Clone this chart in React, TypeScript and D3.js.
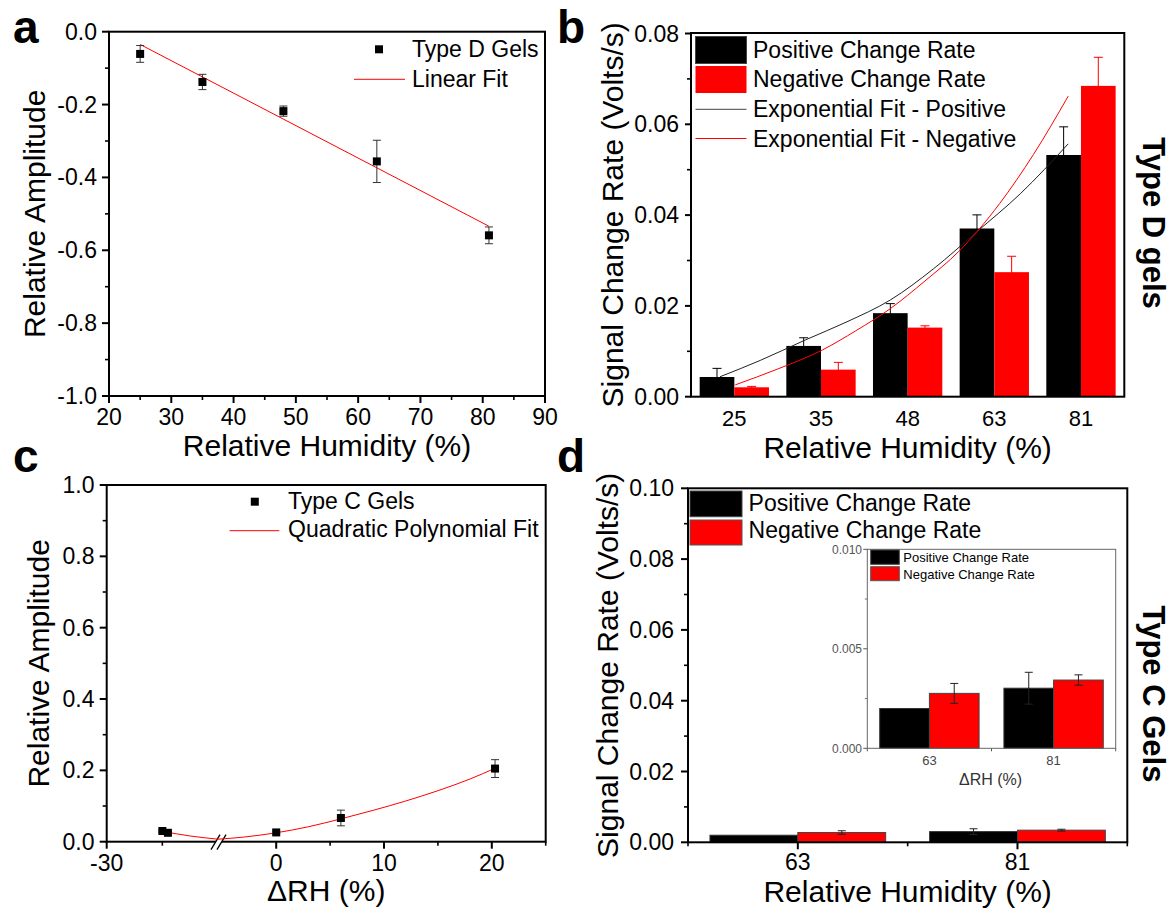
import React from "react";
import * as d3 from "d3";

const FONT = "'Liberation Sans', Arial, Helvetica, sans-serif";
const RED = "#ff0000";
const BLACK = "#000000";

// ---- Panel a: Type D gels, relative amplitude vs relative humidity ----
const rhTypeD = [25, 35, 48, 63, 81];
const ampTypeD = [-0.061, -0.138, -0.218, -0.356, -0.559];
const ampTypeDErr = [0.023, 0.021, 0.014, 0.058, 0.023];
const linearFitRH = [25, 81];
const linearFitAmp = [-0.035, -0.534];
const ampTicksA = [0, -0.2, -0.4, -0.6, -0.8, -1.0];
const ampMinorA = [-0.1, -0.3, -0.5, -0.7, -0.9];
const rhTicksA = [20, 30, 40, 50, 60, 70, 80, 90];
const rhMinorA = [25, 35, 45, 55, 65, 75, 85];

// ---- Panel b: Type D gels, signal change rates ----
const rhCategoriesD = ["25", "35", "48", "63", "81"];
const posRateD = [0.00434, 0.01118, 0.0184, 0.03705, 0.05324];
const posRateDErr = [0.0019, 0.0018, 0.0021, 0.003, 0.0062];
const negRateD = [0.00207, 0.00596, 0.01522, 0.02743, 0.06846];
const negRateDErr = [0.0002, 0.0016, 0.0004, 0.0035, 0.0063];
// exponential fit curves; x measured in category steps from the first category
const expFitPosT = [-0.165, 0.3, 0.82, 1.3, 1.8, 2.3, 2.79, 3.3, 3.853];
const expFitPosY = [0.0044, 0.008, 0.0125, 0.0165, 0.0213, 0.0282, 0.0362, 0.0447, 0.0557];
const expFitNegT = [0.01, 0.5, 1.017, 1.4, 1.8, 2.2, 2.59, 3.06, 3.45, 3.853];
const expFitNegY = [0.0026, 0.0061, 0.0103, 0.0145, 0.0194, 0.0255, 0.032, 0.0425, 0.0533, 0.0662];
const rateTicksB = [0, 0.02, 0.04, 0.06, 0.08];
const rateMinorB = [0.01, 0.03, 0.05, 0.07];

// ---- Panel c: Type C gels, relative amplitude vs ΔRH (broken axis) ----
const dRHTypeC = [-25, -24.5, 0, 6, 20.3];
const ampTypeC = [0.03, 0.025, 0.026, 0.0665, 0.205];
const ampTypeCErr = [0.003, 0.003, 0.004, 0.022, 0.025];
const quadFitLeftX = [-25, -22.5, -20];
const quadFitLeftY = [0.029, 0.016, 0.007];
const quadFitRightX = [-5.4, -3, 0, 3, 6, 9, 12, 15, 18, 20.3];
const quadFitRightY = [0.007, 0.013, 0.025, 0.042, 0.064, 0.088, 0.114, 0.143, 0.176, 0.206];
const ampTicksC = [0, 0.2, 0.4, 0.6, 0.8, 1.0];
const ampMinorC = [0.1, 0.3, 0.5, 0.7, 0.9];
const dRHTicksLeft = [-30];
const dRHMinorLeft = [-25];
const dRHTicksRight = [0, 10, 20];
const dRHMinorRight = [5, 15, 25];

// ---- Panel d: Type C gels, signal change rates (with zoomed inset) ----
const rhCategoriesC = ["63", "81"];
const posRateC = [0.002, 0.00302];
const posRateCErr = [0, 0.0008];
const negRateC = [0.00276, 0.00343];
const negRateCErr = [0.0005, 0.00026];
const rateTicksD = [0, 0.02, 0.04, 0.06, 0.08, 0.1];
const rateMinorD = [0.01, 0.03, 0.05, 0.07, 0.09];
const insetTicks = [0, 0.005, 0.01];
const insetMinor = [0.0025, 0.0075];

const TICK_FS = 23;

type Scale = (v: number) => number;

function YTicks(props: {
  scale: Scale; x: number; major: number[]; minor: number[];
  fmt: (v: number) => string; labelX: number; fontSize?: number;
  len?: number; minorLen?: number; color?: string; width?: number;
}) {
  const { scale, x, major, minor, fmt, labelX } = props;
  const fs = props.fontSize ?? TICK_FS;
  const len = props.len ?? 7;
  const mlen = props.minorLen ?? 4;
  const col = props.color ?? BLACK;
  const w = props.width ?? 2;
  return (
    <g>
      {major.map((v) => (
        <g key={"M" + v}>
          <line x1={x - len} x2={x} y1={scale(v)} y2={scale(v)} stroke={col} strokeWidth={w} />
          <text x={labelX} y={scale(v)} dy="0.35em" textAnchor="end" fontSize={fs} fill={col}>
            {fmt(v)}
          </text>
        </g>
      ))}
      {minor.map((v) => (
        <line key={"m" + v} x1={x - mlen} x2={x} y1={scale(v)} y2={scale(v)} stroke={col} strokeWidth={w * 0.8} />
      ))}
    </g>
  );
}

function XTicks(props: {
  scale: Scale; y: number; major: number[]; minor: number[];
  fmt: (v: number) => string; labelY: number; fontSize?: number;
  len?: number; minorLen?: number;
}) {
  const { scale, y, major, minor, fmt, labelY } = props;
  const fs = props.fontSize ?? TICK_FS;
  const len = props.len ?? 7;
  const mlen = props.minorLen ?? 4;
  return (
    <g>
      {major.map((v) => (
        <g key={"M" + v}>
          <line x1={scale(v)} x2={scale(v)} y1={y} y2={y + len} stroke={BLACK} strokeWidth={2} />
          <text x={scale(v)} y={labelY} textAnchor="middle" fontSize={fs}>
            {fmt(v)}
          </text>
        </g>
      ))}
      {minor.map((v) => (
        <line key={"m" + v} x1={scale(v)} x2={scale(v)} y1={y} y2={y + mlen} stroke={BLACK} strokeWidth={1.6} />
      ))}
    </g>
  );
}

function ErrorBar(props: { x: number; y1: number; y2: number; color: string; cap?: number; width?: number }) {
  const { x, y1, y2, color } = props;
  const c = (props.cap ?? 8) / 2;
  const w = props.width ?? 1;
  return (
    <g stroke={color} strokeWidth={w}>
      <line x1={x} x2={x} y1={y1} y2={y2} />
      <line x1={x - c} x2={x + c} y1={y1} y2={y1} />
      <line x1={x - c} x2={x + c} y1={y2} y2={y2} />
    </g>
  );
}

function Frame(props: { l: number; r: number; t: number; b: number; color?: string; width?: number }) {
  return (
    <rect x={props.l} y={props.t} width={props.r - props.l} height={props.b - props.t}
      fill="none" stroke={props.color ?? BLACK} strokeWidth={props.width ?? 2} />
  );
}

function YTitle(props: { x: number; y: number; text: string }) {
  return (
    <text transform={`translate(${props.x},${props.y}) rotate(-90)`} textAnchor="middle" fontSize={30}>
      {props.text}
    </text>
  );
}

function PanelA() {
  const L = 109, R = 545, T = 31.7, B = 396;
  const x = d3.scaleLinear().domain([20, 90]).range([L, R]);
  const y = d3.scaleLinear().domain([-1, 0]).range([B, T]);
  const fit = d3.line<number>().x((_, i) => x(linearFitRH[i])).y((v) => y(v));
  return (
    <g>
      <text x={13} y={43} fontSize={46} fontWeight="bold">a</text>
      <YTicks scale={y} x={L} major={ampTicksA} minor={ampMinorA} fmt={(v) => v.toFixed(1)} labelX={97} />
      <XTicks scale={x} y={B} major={rhTicksA} minor={rhMinorA} fmt={(v) => String(v)} labelY={425} />
      <Frame l={L} r={R} t={T} b={B} />
      <path d={fit(linearFitAmp) ?? ""} stroke={RED} fill="none" strokeWidth={1} />
      {rhTypeD.map((v, i) => (
        <ErrorBar key={"e" + i} x={x(v)} y1={y(ampTypeD[i] - ampTypeDErr[i])} y2={y(ampTypeD[i] + ampTypeDErr[i])} color="#333" />
      ))}
      {rhTypeD.map((v, i) => (
        <rect key={"p" + i} x={x(v) - 4} y={y(ampTypeD[i]) - 4} width={8} height={8} fill={BLACK} />
      ))}
      {/* legend */}
      <rect x={375} y={45.3} width={8} height={8} fill={BLACK} />
      <text x={412} y={57} fontSize={23}>Type D Gels</text>
      <line x1={354} x2={405} y1={79.3} y2={79.3} stroke={RED} strokeWidth={1} />
      <text x={412} y={87} fontSize={23}>Linear Fit</text>
      <text x={(L + R) / 2} y={456} textAnchor="middle" fontSize={30}>Relative Humidity (%)</text>
      <YTitle x={45} y={(T + B) / 2} text="Relative Amplitude" />
    </g>
  );
}

function PanelB() {
  const L = 691, R = 1124.3, T = 33, B = 396.7;
  const x = d3.scaleBand<string>().domain(rhCategoriesD).range([L, R]).padding(0);
  const bw = x.bandwidth();
  const y = d3.scaleLinear().domain([0, 0.08]).range([B, 33.5]);
  const xc = (c: string) => (x(c) ?? 0) + bw / 2;
  const xt = d3.scaleLinear().domain([0, rhCategoriesD.length - 1])
    .range([xc(rhCategoriesD[0]), xc(rhCategoriesD[rhCategoriesD.length - 1])]);
  const posFit = d3.line<number>().x((_, i) => xt(expFitPosT[i])).y((v) => y(v)).curve(d3.curveMonotoneX);
  const negFit = d3.line<number>().x((_, i) => xt(expFitNegT[i])).y((v) => y(v)).curve(d3.curveMonotoneX);
  const barW = bw * 0.4;
  return (
    <g>
      <text x={557} y={43} fontSize={46} fontWeight="bold">b</text>
      <YTicks scale={y} x={L} major={rateTicksB} minor={rateMinorB} fmt={(v) => v.toFixed(2)} labelX={679} len={6} minorLen={4} />
      {rhCategoriesD.map((c) => (
        <text key={c} x={xc(c)} y={426} textAnchor="middle" fontSize={22}>{c}</text>
      ))}
      {rhCategoriesD.map((c, i) => (
        <g key={"bar" + c}>
          <rect x={xc(c) - barW} y={y(posRateD[i])} width={barW} height={B - y(posRateD[i])} fill={BLACK} />
          <rect x={xc(c)} y={y(negRateD[i])} width={barW} height={B - y(negRateD[i])} fill={RED} />
          <ErrorBar x={xc(c) - barW / 2} y1={y(posRateD[i] - posRateDErr[i])} y2={y(posRateD[i] + posRateDErr[i])} color={BLACK} cap={9} />
          <ErrorBar x={xc(c) + barW / 2} y1={y(negRateD[i] - negRateDErr[i])} y2={y(negRateD[i] + negRateDErr[i])} color={RED} cap={9} />
        </g>
      ))}
      <path d={posFit(expFitPosY) ?? ""} stroke="#222" fill="none" strokeWidth={1} />
      <path d={negFit(expFitNegY) ?? ""} stroke={RED} fill="none" strokeWidth={1} />
      <Frame l={L} r={R} t={T} b={B} />
      {/* legend */}
      <rect x={695.5} y={36.5} width={51} height={27} fill={BLACK} stroke="#444" strokeWidth={1} />
      <rect x={695.5} y={66} width={51} height={27} fill={RED} />
      <line x1={695.5} x2={746.5} y1={109.3} y2={109.3} stroke="#444" strokeWidth={1} />
      <line x1={695.5} x2={746.5} y1={138.5} y2={138.5} stroke={RED} strokeWidth={1} />
      <text x={753} y={58} fontSize={23}>Positive Change Rate</text>
      <text x={753} y={87} fontSize={23}>Negative Change Rate</text>
      <text x={753} y={117} fontSize={23}>Exponential Fit - Positive</text>
      <text x={753} y={146.5} fontSize={23}>Exponential Fit - Negative</text>
      <text x={(L + R) / 2} y={458} textAnchor="middle" fontSize={30}>Relative Humidity (%)</text>
      <YTitle x={623} y={(T + B) / 2} text="Signal Change Rate (Volts/s)" />
      <text transform={`translate(1143,223) rotate(90)`} textAnchor="middle" fontSize={31} fontWeight="bold">Type D gels</text>
    </g>
  );
}

function PanelC() {
  const L = 106.7, R = 545.7, T = 485, B = 841.7, BRK = 218;
  const xLeft = d3.scaleLinear().domain([-30, -20]).range([L, BRK]);
  const xRight = d3.scaleLinear().domain([-5.4, 25]).range([BRK, R]);
  const x = (v: number) => (v <= -20 ? xLeft(v) : xRight(v));
  const y = d3.scaleLinear().domain([0, 1]).range([B, T]);
  const leftFit = d3.line<number>().x((_, i) => xLeft(quadFitLeftX[i])).y((v) => y(v)).curve(d3.curveMonotoneX);
  const rightFit = d3.line<number>().x((_, i) => xRight(quadFitRightX[i])).y((v) => y(v)).curve(d3.curveMonotoneX);
  return (
    <g>
      <text x={13} y={472} fontSize={46} fontWeight="bold">c</text>
      <YTicks scale={y} x={L} major={ampTicksC} minor={ampMinorC} fmt={(v) => v.toFixed(1)} labelX={94.5} />
      <XTicks scale={xLeft} y={B} major={dRHTicksLeft} minor={dRHMinorLeft} fmt={(v) => String(v)} labelY={871} />
      <XTicks scale={xRight} y={B} major={dRHTicksRight} minor={dRHMinorRight} fmt={(v) => String(v)} labelY={871} />
      <Frame l={L} r={R} t={T} b={B} />
      {/* axis break marks */}
      <polygon points={`${BRK - 7},${B + 8} ${BRK + 2},${B - 7} ${BRK + 8},${B - 7} ${BRK - 1},${B + 8}`} fill="#fff" />
      <line x1={BRK - 7} y1={B + 8} x2={BRK + 2} y2={B - 7} stroke={BLACK} strokeWidth={1.3} />
      <line x1={BRK - 1} y1={B + 8} x2={BRK + 8} y2={B - 7} stroke={BLACK} strokeWidth={1.3} />
      <path d={leftFit(quadFitLeftY) ?? ""} stroke={RED} fill="none" strokeWidth={1} />
      <path d={rightFit(quadFitRightY) ?? ""} stroke={RED} fill="none" strokeWidth={1} />
      {dRHTypeC.map((v, i) => (
        <ErrorBar key={"e" + i} x={x(v)} y1={y(ampTypeC[i] - ampTypeCErr[i])} y2={y(ampTypeC[i] + ampTypeCErr[i])} color="#333" />
      ))}
      {dRHTypeC.map((v, i) => (
        <rect key={"p" + i} x={x(v) - 4} y={y(ampTypeC[i]) - 4} width={8} height={8} fill={BLACK} />
      ))}
      {/* legend */}
      <rect x={250.8} y={497.7} width={8} height={8} fill={BLACK} />
      <text x={288} y={509} fontSize={23}>Type C Gels</text>
      <line x1={229.6} x2={279.3} y1={530.7} y2={530.7} stroke={RED} strokeWidth={1} />
      <text x={288} y={537.3} fontSize={23}>Quadratic Polynomial Fit</text>
      <text x={(L + R) / 2} y={901} textAnchor="middle" fontSize={30}>ΔRH (%)</text>
      <YTitle x={49} y={(T + B) / 2} text="Relative Amplitude" />
    </g>
  );
}

function PanelD() {
  const L = 688, R = 1127.3, T = 488.3, B = 842.3;
  const x = d3.scaleBand<string>().domain(rhCategoriesC).range([L, R]).padding(0);
  const bw = x.bandwidth();
  const xc = (c: string) => (x(c) ?? 0) + bw / 2;
  const y = d3.scaleLinear().domain([0, 0.1]).range([B, T]);
  const barW = bw * 0.4;

  // inset
  const iL = 867.3, iR = 1115.7, iT = 549.3, iB = 748.3;
  const ix = d3.scaleBand<string>().domain(rhCategoriesC).range([iL, iR]).padding(0);
  const ibw = ix.bandwidth();
  const ixc = (c: string) => (ix(c) ?? 0) + ibw / 2;
  const iy = d3.scaleLinear().domain([0, 0.01]).range([iB, iT]);
  const ibarW = ibw * 0.4;
  const edges = [L, L + bw, R];
  const iEdges = [iL, iL + ibw, iR];

  return (
    <g>
      <text x={557} y={472} fontSize={46} fontWeight="bold">d</text>
      <YTicks scale={y} x={L} major={rateTicksD} minor={rateMinorD} fmt={(v) => v.toFixed(2)} labelX={674} len={7} minorLen={4} />
      {rhCategoriesC.map((c) => (
        <g key={"t" + c}>
          <line x1={xc(c)} x2={xc(c)} y1={B} y2={B + 7} stroke={BLACK} strokeWidth={2} />
          <text x={xc(c)} y={870} textAnchor="middle" fontSize={23}>{c}</text>
        </g>
      ))}
      {edges.map((e, i) => (
        <line key={"edge" + i} x1={e} x2={e} y1={B} y2={B + 4} stroke={BLACK} strokeWidth={1.6} />
      ))}
      {rhCategoriesC.map((c, i) => (
        <g key={"bar" + c}>
          <rect x={xc(c) - barW} y={y(posRateC[i])} width={barW} height={B - y(posRateC[i])} fill={BLACK} stroke="#333" strokeWidth={1} />
          <rect x={xc(c)} y={y(negRateC[i])} width={barW} height={B - y(negRateC[i])} fill={RED} stroke="#444" strokeWidth={1} />
          {posRateCErr[i] > 0 && (
            <ErrorBar x={xc(c) - barW / 2} y1={y(posRateC[i] - posRateCErr[i])} y2={y(posRateC[i] + posRateCErr[i])} color="#222" cap={8} />
          )}
          {negRateCErr[i] > 0 && (
            <ErrorBar x={xc(c) + barW / 2} y1={y(negRateC[i] - negRateCErr[i])} y2={y(negRateC[i] + negRateCErr[i])} color="#222" cap={8} />
          )}
        </g>
      ))}
      <Frame l={L} r={R} t={T} b={B} />
      {/* legend */}
      <rect x={690} y={491} width={52} height={25.7} fill={BLACK} stroke="#444" strokeWidth={1} />
      <rect x={690} y={520} width={52} height={25} fill={RED} stroke="#555" strokeWidth={1} />
      <text x={748.6} y={511} fontSize={23}>Positive Change Rate</text>
      <text x={748.6} y={537.5} fontSize={23}>Negative Change Rate</text>

      {/* inset: zoomed view of the same rates */}
      <rect x={iL} y={iT} width={iR - iL} height={iB - iT} fill="#fff" />
      <YTicks scale={iy} x={iL} major={insetTicks} minor={insetMinor} fmt={(v) => v.toFixed(3)} labelX={862} fontSize={12} len={4} minorLen={2.5} color="#555" width={1} />
      {rhCategoriesC.map((c) => (
        <text key={"it" + c} x={ixc(c)} y={765} textAnchor="middle" fontSize={13} fill="#444">{c}</text>
      ))}
      {iEdges.map((e, i) => (
        <line key={"iedge" + i} x1={e} x2={e} y1={iB} y2={iB + 3} stroke="#555" strokeWidth={1} />
      ))}
      {rhCategoriesC.map((c, i) => (
        <g key={"ibar" + c}>
          <rect x={ixc(c) - ibarW} y={iy(posRateC[i])} width={ibarW} height={iB - iy(posRateC[i])} fill={BLACK} stroke="#333" strokeWidth={1} />
          <rect x={ixc(c)} y={iy(negRateC[i])} width={ibarW} height={iB - iy(negRateC[i])} fill={RED} stroke="#444" strokeWidth={1} />
          {posRateCErr[i] > 0 && (
            <ErrorBar x={ixc(c) - ibarW / 2} y1={iy(posRateC[i] - posRateCErr[i])} y2={iy(posRateC[i] + posRateCErr[i])} color="#222" cap={8} />
          )}
          {negRateCErr[i] > 0 && (
            <ErrorBar x={ixc(c) + ibarW / 2} y1={iy(negRateC[i] - negRateCErr[i])} y2={iy(negRateC[i] + negRateCErr[i])} color="#222" cap={8} />
          )}
        </g>
      ))}
      <Frame l={iL} r={iR} t={iT} b={iB} color="#666" width={1} />
      <rect x={870.7} y={550} width={28.6} height={14.3} fill={BLACK} stroke="#444" strokeWidth={1} />
      <rect x={870.7} y={566.7} width={28.6} height={14} fill={RED} stroke="#555" strokeWidth={1} />
      <text x={903.3} y={561.5} fontSize={13}>Positive Change Rate</text>
      <text x={903.3} y={578.5} fontSize={13}>Negative Change Rate</text>
      <text x={(iL + iR) / 2 - 1} y={785} textAnchor="middle" fontSize={16} fill="#333">ΔRH (%)</text>

      <text x={(L + R) / 2} y={902} textAnchor="middle" fontSize={30}>Relative Humidity (%)</text>
      <YTitle x={618} y={(T + B) / 2} text="Signal Change Rate (Volts/s)" />
      <text transform={`translate(1143,694) rotate(90)`} textAnchor="middle" fontSize={31} fontWeight="bold">Type C Gels</text>
    </g>
  );
}

export default function App() {
  return (
    <div style={{ position: "absolute", left: 0, top: 0 }}>
      <svg width={1174} height={910} style={{ display: "block" }} fontFamily={FONT}>
        <rect width={1174} height={910} fill="#fff" />
        <PanelA />
        <PanelB />
        <PanelC />
        <PanelD />
      </svg>
    </div>
  );
}
